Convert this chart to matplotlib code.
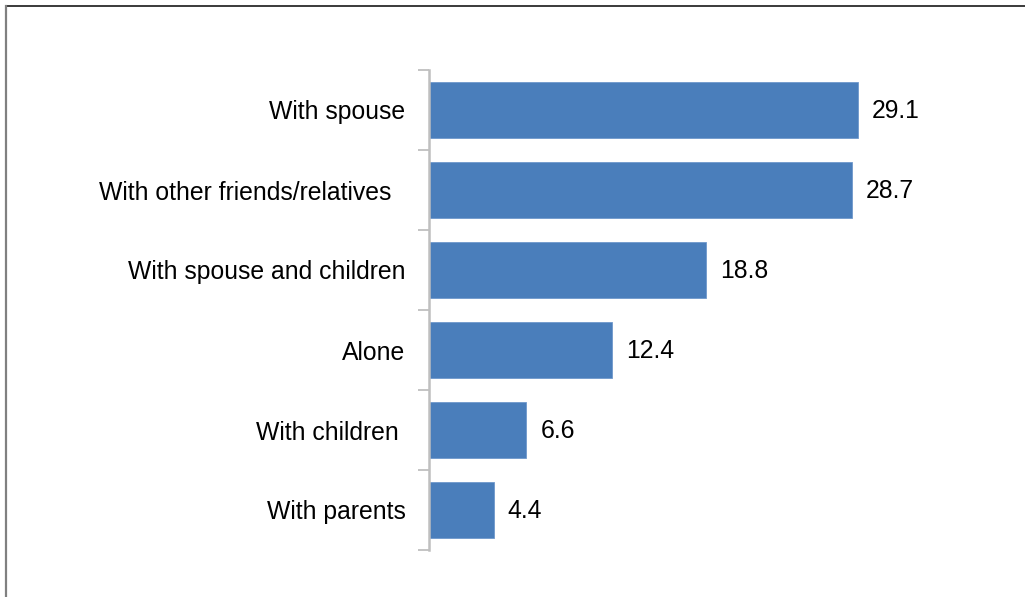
import matplotlib
matplotlib.use("Agg")
import matplotlib.pyplot as plt
from matplotlib.lines import Line2D
import numpy as np

categories = ["With spouse", "With other friends/relatives  ", "With spouse and children",
              "Alone", "With children ", "With parents"]
values = [29.1, 28.7, 18.8, 12.4, 6.6, 4.4]
value_labels = ["29.1", "28.7", "18.8", "12.4", "6.6", "4.4"]

plt.rcParams['font.family'] = ['Liberation Sans', 'DejaVu Sans']

W, H = 1025, 597
FS = 17.8
fig = plt.figure(figsize=(W / 100, H / 100), dpi=100)
ax = fig.add_axes([429 / W, 1 - 550 / H, (1004 - 429) / W, 480 / H])

y = np.arange(len(categories))
ax.barh(y, values, height=0.7, color="#4A7EBB", edgecolor="#6F98CC", linewidth=0.6)
ax.set_ylim(len(categories) - 0.5, -0.5)
ax.set_xlim(0, (1004 - 429) / 14.74)

for yi, v, lab in zip(y, values, value_labels):
    ax.annotate(lab, xy=(v, yi), xytext=(14, -1), textcoords="offset pixels",
                ha="left", va="center", fontsize=FS, color="#000000")

ax.set_yticks(y)
ax.set_yticklabels(categories, fontsize=FS)
ax.tick_params(axis="y", which="major", length=0, pad=17)
ax.set_yticks(np.arange(-0.5, len(categories)), minor=True)
ax.tick_params(axis="y", which="minor", length=8, width=1.3, color="#BFBFBF")
ax.set_xticks([])
for s in ["top", "right", "bottom"]:
    ax.spines[s].set_visible(False)
ax.spines["left"].set_color("#BFBFBF")
ax.spines["left"].set_linewidth(1.8)

fig.add_artist(Line2D([5.5 / W, 1], [1 - 5.5 / H, 1 - 5.5 / H], transform=fig.transFigure,
                      color="#3A3A3A", linewidth=1.4))
fig.add_artist(Line2D([5.5 / W, 5.5 / W], [0, 1 - 5.5 / H], transform=fig.transFigure,
                      color="#808080", linewidth=1.6))

fig.savefig("out.png", dpi=100)
